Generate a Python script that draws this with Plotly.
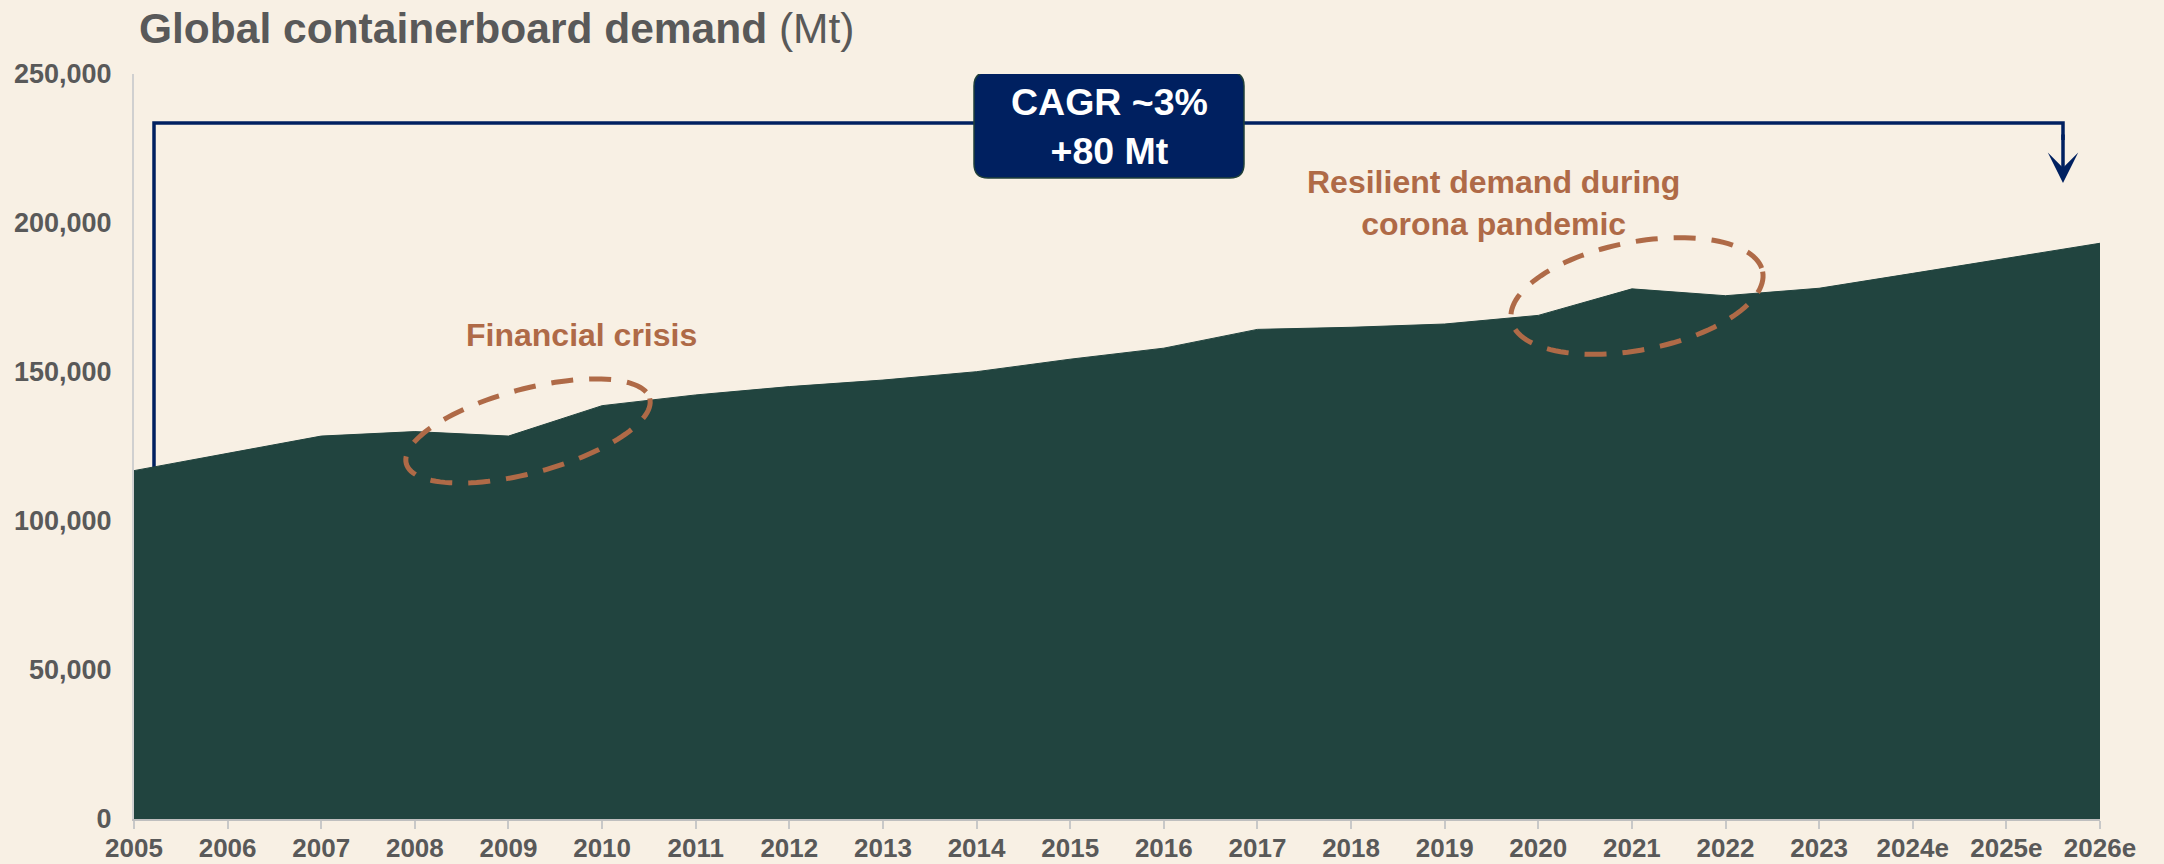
import numpy as np
import plotly.graph_objects as go

years = ["2005", "2006", "2007", "2008", "2009", "2010", "2011", "2012", "2013", "2014", "2015",
         "2016", "2017", "2018", "2019", "2020", "2021", "2022", "2023", "2024e", "2025e", "2026e"]
demand = [116900, 122700, 128500, 130000, 128500, 138700, 142300, 145100, 147300, 150100, 154300,
          158000, 164300, 165000, 166100, 169000, 177900, 175600, 178100, 183100, 188200, 193200]
y_ticks = [0, 50000, 100000, 150000, 200000, 250000]
y_ticktext = ["0", "50,000", "100,000", "150,000", "200,000", "250,000"]

BG = "#F8F0E4"
GREEN = "#21443F"
NAVY = "#002060"
ORANGE = "#AF6A47"
GRAY = "#595959"
FONT = "Liberation Sans, Arial, sans-serif"

W, H = 2164, 864
L, R, T, B = 134, 64, 74, 45
PW = W - L - R
PH = H - T - B
YMAX = 250000
NX = len(years) - 1


def px2x(px):
    return (px - L) / PW * NX


def py2y(py):
    return (H - B - py) / PH * YMAX


def py2paper(py):
    return (H - B - py) / PH


def ellipse_path(cx, cy, a, b, theta_deg, n=120):
    th = np.radians(theta_deg)
    t = np.linspace(0, 2 * np.pi, n, endpoint=False)
    px = cx + a * np.cos(t) * np.cos(th) + b * np.sin(t) * np.sin(th)
    py = cy - a * np.cos(t) * np.sin(th) + b * np.sin(t) * np.cos(th)
    pts = [f"{px2x(u):.4f},{py2y(v):.2f}" for u, v in zip(px, py)]
    return "M" + " L".join(pts) + " Z"


def rounded_rect(x0, y0, x1, y1, r):
    P = lambda u, v: f"{px2x(u):.4f},{py2y(v):.2f}"
    return (f"M{P(x0 + r, y0)} L{P(x1 - r, y0)} Q{P(x1, y0)} {P(x1, y0 + r)} "
            f"L{P(x1, y1 - r)} Q{P(x1, y1)} {P(x1 - r, y1)} L{P(x0 + r, y1)} "
            f"Q{P(x0, y1)} {P(x0, y1 - r)} L{P(x0, y0 + r)} Q{P(x0, y0)} {P(x0 + r, y0)} Z")


xi = list(range(len(years)))

fig = go.Figure()
fig.add_trace(go.Scatter(x=xi, y=demand, mode="lines", fill="tozeroy",
                         line=dict(color=GREEN, width=1), fillcolor=GREEN,
                         hoverinfo="skip", showlegend=False))

shapes = []
bx0, bx1, by = 154, 2063, 123
shapes.append(dict(type="path", xref="x", yref="y", layer="below",
                   path=f"M{px2x(bx0):.4f},{py2y(520):.2f} L{px2x(bx0):.4f},{py2y(by):.2f} "
                        f"L{px2x(bx1):.4f},{py2y(by):.2f} L{px2x(bx1):.4f},{py2y(140):.2f}",
                   line=dict(color=NAVY, width=3.5)))
shapes.append(dict(type="path", xref="x", yref="y", layer="above",
                   path=rounded_rect(974, 72, 1244, 178, 14),
                   fillcolor=NAVY, line=dict(color="#1F3F3A", width=1.5)))
shapes.append(dict(type="path", xref="x", yref="y", layer="above",
                   path=ellipse_path(528, 431, 126, 42, 15),
                   line=dict(color=ORANGE, width=5, dash="22px,16px")))
shapes.append(dict(type="path", xref="x", yref="y", layer="above",
                   path=ellipse_path(1637, 296, 128, 54, 11),
                   line=dict(color=ORANGE, width=5, dash="22px,16px")))

annotations = [
    dict(text="<b>Global containerboard demand</b> (Mt)", xref="paper", yref="paper",
         x=(137 - L) / PW, y=py2paper(29), xanchor="left", yanchor="middle",
         showarrow=False, font=dict(family=FONT, size=42.5, color=GRAY)),
    dict(text="<b>CAGR ~3%<br>+80 Mt</b>", xref="x", yref="y",
         x=px2x(1109), y=py2y(126), xanchor="center", yanchor="middle",
         showarrow=False, font=dict(family=FONT, size=37.5, color="white")),
    dict(text="<b>Financial crisis</b>", xref="x", yref="y",
         x=px2x(581), y=py2y(335), xanchor="center", yanchor="middle",
         showarrow=False, font=dict(family=FONT, size=32, color=ORANGE)),
    dict(text="<b>Resilient demand during<br>corona pandemic</b>", xref="x", yref="y",
         x=px2x(1493), y=py2y(203), xanchor="center", yanchor="middle",
         showarrow=False, font=dict(family=FONT, size=32, color=ORANGE)),
    dict(text="", xref="x", yref="y", x=px2x(bx1), y=py2y(183),
         ax=0, ay=-50, showarrow=True, arrowhead=3, arrowsize=1.45, arrowwidth=3.5,
         arrowcolor=NAVY),
]

fig.update_layout(
    width=W, height=H,
    margin=dict(l=L, r=R, t=T, b=B, autoexpand=False),
    paper_bgcolor=BG, plot_bgcolor=BG,
    shapes=shapes, annotations=annotations,
    showlegend=False,
    xaxis=dict(range=[0, NX], tickmode="array", tickvals=xi, ticktext=years,
               showgrid=False, zeroline=False, showline=True, linecolor="#BFBFBF", linewidth=2,
               ticks="outside", ticklen=8, tickwidth=1.5, tickcolor="#C8C8C8",
               tickfont=dict(family=FONT, size=26, color=GRAY, weight="bold"),
               ticklabelstandoff=-3, fixedrange=True),
    yaxis=dict(range=[0, YMAX], tickmode="array", tickvals=y_ticks, ticktext=y_ticktext,
               showgrid=False, zeroline=False, showline=True, linecolor="#D0D0D0", linewidth=2,
               ticks="", tickfont=dict(family=FONT, size=27, color=GRAY, weight="bold"),
               ticklabelstandoff=15, fixedrange=True),
)

fig.write_html("out.html", config={"displayModeBar": False},
               post_script="document.body.style.margin='0';document.body.style.overflow='hidden';"
                           "document.body.style.background='" + BG + "';")
